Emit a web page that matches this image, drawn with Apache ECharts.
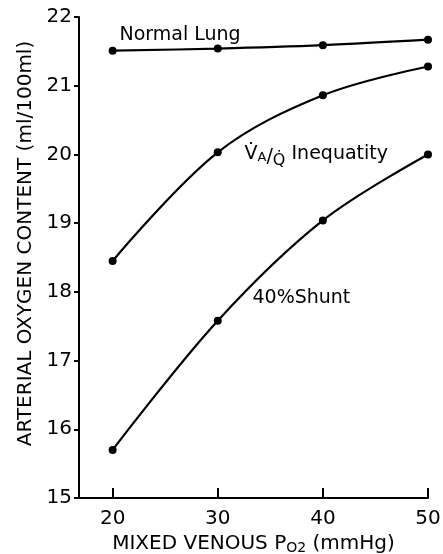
<!DOCTYPE html>
<html><head><meta charset="utf-8">
<script src="https://cdn.jsdelivr.net/npm/echarts@6/dist/echarts.min.js"></script>
<style>html,body{margin:0;padding:0;background:#fff}#c{width:443px;height:554px}</style>
</head><body><div id="c"></div>
<script>
var xValues = [20, 30, 40, 50];
var normalLung = [21.51, 21.54, 21.59, 21.67];
var vaqInequality = [18.45, 20.03, 20.86, 21.28];
var shunt40 = [15.70, 17.58, 19.04, 20.00];
var xTicks = [20, 30, 40, 50];
var yTicks = [15, 16, 17, 18, 19, 20, 21, 22];

var FONT = 'DejaVu Sans';
function pairs(ys){ return xValues.map(function(x,i){ return [x, ys[i]]; }); }
function lineSeries(name, ys){
  return {
    name: name, type: 'line', data: pairs(ys), smooth: 0.35,
    symbol: 'circle', symbolSize: 8,
    itemStyle: {color: '#000'}, lineStyle: {color: '#000', width: 2.2},
    animation: false
  };
}
var chart = echarts.init(document.getElementById('c'), null, {renderer: 'canvas'});
chart.setOption({
  animation: false,
  backgroundColor: '#fff',
  grid: {left: 79, top: 17, right: 15, bottom: 56, containLabel: false, outerBoundsMode: 'none'},
  xAxis: {
    type: 'value', min: 16.8, max: 50,
    axisLine: {lineStyle: {color: '#000', width: 2}},
    axisTick: {inside: true, length: 10, lineStyle: {color: '#000', width: 2}, customValues: xTicks},
    axisLabel: {color: '#000', fontFamily: FONT, fontSize: 20, margin: 11, customValues: xTicks},
    splitLine: {show: false},
    name: '{a|MIXED VENOUS P}{s|O2}{a| (mmHg)}',
    nameLocation: 'middle', nameGap: 28,
    nameTextStyle: {rich: {
      a: {fontFamily: FONT, fontSize: 20, color: '#000'},
      s: {fontFamily: FONT, fontSize: 14, color: '#000', verticalAlign: 'bottom', padding: [9,0,0,0]}
    }}
  },
  yAxis: {
    type: 'value', min: 15, max: 22, interval: 1,
    axisLine: {lineStyle: {color: '#000', width: 2}},
    axisTick: {inside: false, length: 5, lineStyle: {color: '#000', width: 2}},
    axisLabel: {color: '#000', fontFamily: FONT, fontSize: 20, margin: 7, customValues: yTicks},
    splitLine: {show: false},
    name: 'ARTERIAL OXYGEN CONTENT (ml/100ml)',
    nameLocation: 'middle', nameGap: 42, nameRotate: 90,
    nameTextStyle: {fontFamily: FONT, fontSize: 20, color: '#000', padding: [0, 0, 0, 28]}
  },
  series: [
    lineSeries('Normal Lung', normalLung),
    lineSeries('VA/Q Inequatity', vaqInequality),
    lineSeries('40% Shunt', shunt40)
  ]
});

function place(x, y){ return chart.convertToPixel({gridIndex: 0}, [x, y]); }
var pN = place(20.65, 21.74);
var pV = place(32.55, 20.0);
var pS = place(33.3, 17.91);
chart.setOption({graphic: [
  {type: 'text', x: pN[0], y: pN[1], style: {text: 'Normal Lung', font: '19px "DejaVu Sans"', fill: '#000', textVerticalAlign: 'middle'}},
  {type: 'text', x: pV[0], y: pV[1], style: {
    text: '{v|V\u0307}{sa|A}{sl|/}{q|Q\u0307}{t| Inequatity}',
    rich: {
      v: {fontFamily: FONT, fontSize: 19, fill: '#000'},
      sa: {fontFamily: FONT, fontSize: 13, fill: '#000', padding: [7,0,0,0]},
      sl: {fontFamily: FONT, fontSize: 19, fill: '#000', padding: [5,0,0,0]},
      q: {fontFamily: FONT, fontSize: 16, fill: '#000', padding: [12,0,0,0]},
      t: {fontFamily: FONT, fontSize: 19, fill: '#000'}
    }, textVerticalAlign: 'middle'}},
  {type: 'text', x: pS[0], y: pS[1], style: {text: '40%Shunt', font: '19px "DejaVu Sans"', fill: '#000', textVerticalAlign: 'middle'}}
]});
</script></body></html>
